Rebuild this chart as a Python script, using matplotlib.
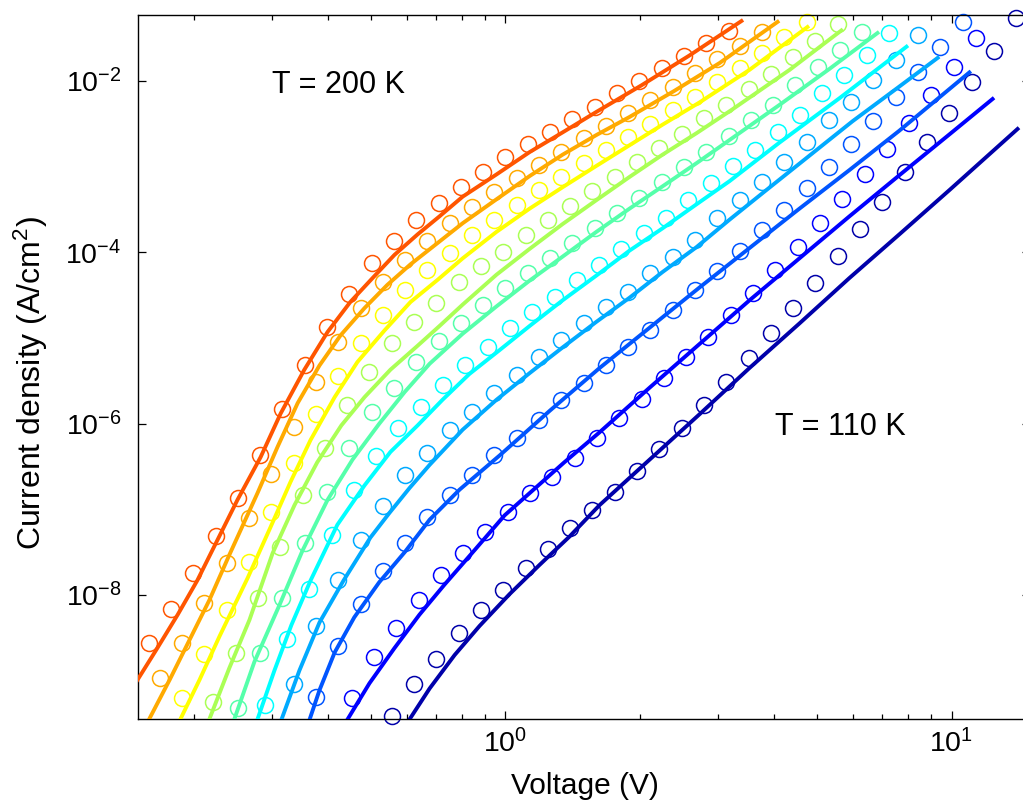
import numpy as np
import matplotlib.pyplot as plt
from matplotlib.ticker import LogLocator, NullLocator, NullFormatter, FixedLocator

plt.rcParams['font.family'] = ['Liberation Sans', 'DejaVu Sans']
plt.rcParams['mathtext.fontset'] = 'custom'
plt.rcParams['mathtext.rm'] = 'Liberation Sans'
plt.rcParams['mathtext.it'] = 'Liberation Sans:italic'
plt.rcParams['mathtext.bf'] = 'Liberation Sans:bold'
plt.rcParams['mathtext.default'] = 'regular'

# values, log10(V in volts) and log10(J in A/cm^2)
# circles = measured, lines = model fit
temps = [110, 120, 130, 140, 150, 160, 170, 180, 190, 200]
colors = ["#0000AA", "#0000FF", "#0055FF", "#00AAFF", "#00FFFF",
          "#55FFAA", "#AAFF55", "#FFFF00", "#FFAA00", "#FF5500"]

# 200 K
logv_meas_200 = [-0.80, -0.75, -0.70, -0.65, -0.60, -0.55, -0.50, -0.45, -0.40, -0.35, -0.30, -0.25, -0.20, -0.15,
                 -0.10, -0.05, 0.00, 0.05, 0.10, 0.15, 0.20, 0.25, 0.30, 0.35, 0.40, 0.45, 0.50]
logj_meas_200 = [-8.56, -8.16, -7.74, -7.31, -6.87, -6.37, -5.83, -5.32, -4.87, -4.49, -4.12, -3.87, -3.62, -3.42,
                 -3.24, -3.06, -2.89, -2.74, -2.60, -2.44, -2.30, -2.14, -2.00, -1.85, -1.71, -1.56, -1.42]
logv_fit_200 = [-0.825, -0.783, -0.735, -0.691, -0.646, -0.601, -0.549, -0.504, -0.451, -0.399, -0.348, -0.298,
                -0.249, -0.197, -0.148, -0.096, -0.020, 0.054, 0.128, 0.204, 0.305, 0.413, 0.529]
logj_fit_200 = [-8.99, -8.64, -8.23, -7.83, -7.36, -6.89, -6.39, -5.88, -5.37, -4.93, -4.58, -4.30,
                -4.03, -3.79, -3.58, -3.35, -3.09, -2.83, -2.60, -2.36, -2.05, -1.70, -1.30]

# 190 K
logv_meas_190 = [-0.775, -0.725, -0.675, -0.625, -0.575, -0.525, -0.475, -0.425, -0.375, -0.325, -0.275, -0.225,
                 -0.175, -0.125, -0.075, -0.025, 0.025, 0.075, 0.125, 0.175, 0.225, 0.275, 0.325, 0.375, 0.425,
                 0.475, 0.525, 0.575]
logj_meas_190 = [-8.97, -8.56, -8.09, -7.63, -7.10, -6.59, -6.04, -5.51, -5.05, -4.65, -4.35, -4.09, -3.87, -3.66,
                 -3.47, -3.30, -3.13, -2.98, -2.83, -2.67, -2.53, -2.37, -2.22, -2.07, -1.91, -1.74, -1.59, -1.43]
logv_fit_190 = [-0.798, -0.753, -0.709, -0.664, -0.619, -0.556, -0.511, -0.466, -0.417, -0.370, -0.316, -0.265,
                -0.213, -0.152, -0.096, -0.020, 0.054, 0.128, 0.204, 0.278, 0.377, 0.480, 0.610]
logj_fit_190 = [-9.44, -8.99, -8.53, -8.06, -7.53, -6.81, -6.27, -5.76, -5.32, -4.97, -4.65, -4.38,
                -4.14, -3.89, -3.66, -3.38, -3.11, -2.86, -2.63, -2.42, -2.12, -1.79, -1.31]

# 180 K
logv_meas_180 = [-0.725, -0.675, -0.625, -0.575, -0.525, -0.475, -0.425, -0.375, -0.325, -0.275, -0.225, -0.175,
                 -0.125, -0.075, -0.025, 0.025, 0.075, 0.125, 0.175, 0.225, 0.275, 0.325, 0.375, 0.425, 0.475,
                 0.525, 0.575, 0.625, 0.675]
logj_meas_180 = [-9.20, -8.69, -8.18, -7.62, -7.03, -6.46, -5.89, -5.44, -5.06, -4.73, -4.44, -4.21, -4.01, -3.80,
                 -3.62, -3.45, -3.27, -3.12, -2.96, -2.81, -2.65, -2.50, -2.34, -2.19, -2.01, -1.85, -1.67, -1.49,
                 -1.31]
logv_fit_180 = [-0.729, -0.686, -0.641, -0.578, -0.527, -0.482, -0.437, -0.383, -0.332, -0.271, -0.213, -0.152,
                -0.096, -0.020, 0.054, 0.128, 0.204, 0.278, 0.352, 0.435, 0.547, 0.677]
logj_fit_180 = [-9.45, -8.99, -8.48, -7.80, -7.21, -6.68, -6.19, -5.69, -5.28, -4.91, -4.58, -4.32,
                -4.07, -3.76, -3.49, -3.24, -2.99, -2.75, -2.51, -2.25, -1.87, -1.37]

# 170 K
logv_meas_170 = [-0.655, -0.605, -0.555, -0.505, -0.455, -0.405, -0.355, -0.305, -0.255, -0.205, -0.155, -0.105,
                 -0.055, -0.005, 0.045, 0.095, 0.145, 0.195, 0.245, 0.295, 0.345, 0.395, 0.445, 0.495, 0.545,
                 0.595, 0.645, 0.695, 0.745]
logj_meas_170 = [-9.25, -8.68, -8.04, -7.44, -6.83, -6.28, -5.78, -5.40, -5.06, -4.81, -4.59, -4.35, -4.16, -4.00,
                 -3.80, -3.62, -3.46, -3.28, -3.12, -2.95, -2.78, -2.62, -2.43, -2.28, -2.09, -1.92, -1.72, -1.53,
                 -1.34]
logv_fit_170 = [-0.664, -0.619, -0.574, -0.522, -0.473, -0.422, -0.368, -0.316, -0.258, -0.197, -0.148, -0.096,
                -0.020, 0.054, 0.128, 0.204, 0.278, 0.352, 0.428, 0.509, 0.637, 0.753]
logj_fit_170 = [-9.45, -8.85, -8.29, -7.51, -6.95, -6.45, -6.02, -5.69, -5.37, -5.09, -4.86, -4.61,
                -4.26, -3.96, -3.67, -3.39, -3.12, -2.86, -2.61, -2.33, -1.87, -1.41]

# 160 K
logv_meas_160 = [-0.60, -0.55, -0.50, -0.45, -0.40, -0.35, -0.30, -0.25, -0.20, -0.15, -0.10, -0.05, 0.00, 0.05,
                 0.10, 0.15, 0.20, 0.25, 0.30, 0.35, 0.40, 0.45, 0.50, 0.55, 0.60, 0.65, 0.70, 0.75, 0.80]
logj_meas_160 = [-9.32, -8.68, -8.04, -7.39, -6.80, -6.28, -5.86, -5.58, -5.28, -5.04, -4.83, -4.62, -4.42, -4.24,
                 -4.07, -3.89, -3.72, -3.54, -3.37, -3.18, -3.00, -2.83, -2.64, -2.46, -2.28, -2.05, -1.84, -1.64,
                 -1.43]
logv_fit_160 = [-0.608, -0.563, -0.507, -0.455, -0.399, -0.343, -0.283, -0.226, -0.170, -0.096, -0.020, 0.054,
                0.128, 0.204, 0.278, 0.352, 0.428, 0.502, 0.614, 0.726, 0.834]
logj_fit_160 = [-9.45, -8.78, -8.12, -7.48, -6.89, -6.42, -6.00, -5.63, -5.30, -4.95, -4.63, -4.33,
                -4.05, -3.76, -3.49, -3.23, -2.96, -2.69, -2.28, -1.86, -1.44]

# 150 K
logv_meas_150 = [-0.54, -0.49, -0.44, -0.39, -0.34, -0.29, -0.24, -0.19, -0.14, -0.09, -0.04, 0.01, 0.06, 0.11,
                 0.16, 0.21, 0.26, 0.31, 0.36, 0.41, 0.46, 0.51, 0.56, 0.61, 0.66, 0.71, 0.76, 0.81, 0.86]
logj_meas_150 = [-9.28, -8.51, -7.93, -7.30, -6.77, -6.38, -6.05, -5.81, -5.55, -5.32, -5.11, -4.88, -4.70, -4.52,
                 -4.32, -4.15, -3.96, -3.77, -3.60, -3.39, -3.19, -2.99, -2.81, -2.60, -2.40, -2.14, -1.93, -1.70,
                 -1.44]
logv_fit_150 = [-0.556, -0.518, -0.480, -0.437, -0.377, -0.316, -0.258, -0.197, -0.141, -0.081, -0.013, 0.054,
                0.128, 0.204, 0.278, 0.352, 0.428, 0.502, 0.614, 0.749, 0.899]
logj_fit_150 = [-9.45, -8.88, -8.35, -7.83, -7.18, -6.72, -6.33, -6.02, -5.72, -5.42, -5.14, -4.86,
                -4.56, -4.27, -3.98, -3.72, -3.44, -3.17, -2.72, -2.20, -1.60]

# 140 K
logv_meas_140 = [-0.475, -0.425, -0.375, -0.325, -0.275, -0.225, -0.175, -0.125, -0.075, -0.025, 0.025, 0.075,
                 0.125, 0.175, 0.225, 0.275, 0.325, 0.375, 0.425, 0.475, 0.525, 0.575, 0.625, 0.675, 0.725,
                 0.775, 0.825, 0.875, 0.925]
logj_meas_140 = [-9.04, -8.36, -7.83, -7.36, -6.96, -6.60, -6.34, -6.07, -5.86, -5.64, -5.43, -5.22, -5.02, -4.83,
                 -4.64, -4.46, -4.24, -4.05, -3.86, -3.60, -3.39, -3.18, -2.95, -2.71, -2.46, -2.25, -1.99, -1.76,
                 -1.46]
logv_fit_140 = [-0.502, -0.462, -0.417, -0.363, -0.303, -0.260, -0.215, -0.170, -0.096, -0.020, 0.054, 0.128,
                0.204, 0.278, 0.352, 0.428, 0.502, 0.576, 0.677, 0.778, 0.879, 0.969]
logj_fit_140 = [-9.45, -8.88, -8.32, -7.83, -7.33, -7.04, -6.75, -6.48, -6.07, -5.72, -5.41, -5.11,
                -4.81, -4.53, -4.23, -3.94, -3.62, -3.31, -2.89, -2.47, -2.08, -1.73]

# 130 K
logv_meas_130 = [-0.425, -0.375, -0.325, -0.275, -0.225, -0.175, -0.125, -0.075, -0.025, 0.025, 0.075, 0.125,
                 0.175, 0.225, 0.275, 0.325, 0.375, 0.425, 0.475, 0.525, 0.575, 0.625, 0.675, 0.725, 0.775,
                 0.825, 0.875, 0.925, 0.975, 1.025]
logj_meas_130 = [-9.19, -8.60, -8.11, -7.72, -7.39, -7.09, -6.83, -6.60, -6.37, -6.17, -5.96, -5.72, -5.53, -5.32,
                 -5.11, -4.91, -4.67, -4.44, -4.22, -3.98, -3.74, -3.51, -3.25, -3.00, -2.74, -2.47, -2.19, -1.90,
                 -1.60, -1.31]
logv_fit_130 = [-0.439, -0.417, -0.383, -0.339, -0.283, -0.226, -0.170, -0.103, -0.013, 0.099, 0.211, 0.323,
                0.435, 0.547, 0.659, 0.771, 0.883, 1.040]
logj_fit_130 = [-9.45, -9.11, -8.67, -8.26, -7.85, -7.50, -7.12, -6.77, -6.37, -5.85, -5.35, -4.88,
                -4.41, -3.95, -3.49, -3.04, -2.58, -1.90]

# 120 K
logv_meas_120 = [-0.345, -0.295, -0.245, -0.195, -0.145, -0.095, -0.045, 0.005, 0.055, 0.105, 0.155, 0.205,
                 0.255, 0.305, 0.355, 0.405, 0.455, 0.505, 0.555, 0.605, 0.655, 0.705, 0.755, 0.805, 0.855,
                 0.905, 0.955, 1.005, 1.055]
logj_meas_120 = [-9.20, -8.72, -8.39, -8.06, -7.77, -7.51, -7.26, -7.03, -6.81, -6.62, -6.40, -6.17, -5.93, -5.71,
                 -5.47, -5.22, -4.99, -4.73, -4.48, -4.21, -3.94, -3.66, -3.38, -3.09, -2.79, -2.49, -2.16, -1.84,
                 -1.50]
logv_fit_120 = [-0.354, -0.305, -0.249, -0.193, -0.137, -0.070, -0.002, 0.065, 0.132, 0.211, 0.323, 0.435,
                0.547, 0.659, 0.771, 0.883, 0.996, 1.092]
logj_fit_120 = [-9.45, -9.03, -8.62, -8.23, -7.88, -7.48, -7.07, -6.76, -6.45, -6.10, -5.58, -5.07,
                -4.56, -4.07, -3.58, -3.10, -2.62, -2.21]

# 110 K
logv_meas_110 = [-0.255, -0.205, -0.155, -0.105, -0.055, -0.005, 0.045, 0.095, 0.145, 0.195, 0.245, 0.295,
                 0.345, 0.395, 0.445, 0.495, 0.545, 0.595, 0.645, 0.695, 0.745, 0.795, 0.845, 0.895, 0.945,
                 0.995, 1.045, 1.095, 1.145]
logj_meas_110 = [-9.41, -9.04, -8.75, -8.44, -8.18, -7.94, -7.69, -7.46, -7.22, -7.01, -6.80, -6.55, -6.30, -6.05,
                 -5.78, -5.51, -5.23, -4.94, -4.65, -4.36, -4.04, -3.73, -3.41, -3.06, -2.71, -2.37, -2.01, -1.65,
                 -1.27]
logv_fit_110 = [-0.215, -0.170, -0.114, -0.058, 0.009, 0.076, 0.143, 0.211, 0.323, 0.435, 0.547, 0.659,
                0.771, 0.883, 0.996, 1.148]
logj_fit_110 = [-9.45, -9.09, -8.70, -8.36, -7.99, -7.65, -7.32, -6.95, -6.42, -5.89, -5.35, -4.83,
                -4.30, -3.79, -3.27, -2.56]

series = [
    (logv_meas_110, logj_meas_110, logv_fit_110, logj_fit_110),
    (logv_meas_120, logj_meas_120, logv_fit_120, logj_fit_120),
    (logv_meas_130, logj_meas_130, logv_fit_130, logj_fit_130),
    (logv_meas_140, logj_meas_140, logv_fit_140, logj_fit_140),
    (logv_meas_150, logj_meas_150, logv_fit_150, logj_fit_150),
    (logv_meas_160, logj_meas_160, logv_fit_160, logj_fit_160),
    (logv_meas_170, logj_meas_170, logv_fit_170, logj_fit_170),
    (logv_meas_180, logj_meas_180, logv_fit_180, logj_fit_180),
    (logv_meas_190, logj_meas_190, logv_fit_190, logj_fit_190),
    (logv_meas_200, logj_meas_200, logv_fit_200, logj_fit_200),
]

fig = plt.figure(figsize=(10.23, 8.07), dpi=100)
ax = fig.add_axes([0.1349, 0.109, 0.872, 0.873])

for (lv, lj, fv, fj), c in zip(series, colors):
    ax.plot(10 ** np.array(lv), 10 ** np.array(lj), 'o', ms=11.5, mfc='none', mec=c, mew=1.1,
            clip_on=False, zorder=2)
    ax.plot(10 ** np.array(fv), 10 ** np.array(fj), '-', color=c, lw=2.8, zorder=3,
            solid_joinstyle='round')

ax.set_xscale('log')
ax.set_yscale('log')
ax.set_xlim(0.15, 15)
ax.set_ylim(3.57e-10, 5.97e-2)

ax.yaxis.set_major_locator(FixedLocator([1e-8, 1e-6, 1e-4, 1e-2]))
ax.yaxis.set_minor_locator(NullLocator())
ax.xaxis.set_minor_locator(LogLocator(base=10, subs=np.arange(2, 10)))
ax.xaxis.set_minor_formatter(NullFormatter())

ax.tick_params(which='both', direction='in', top=True, right=True, width=0.9, labelsize=20.5)
ax.tick_params(which='major', length=6)
ax.tick_params(which='minor', length=3.5)
ax.tick_params(axis='x', pad=7)
ax.tick_params(axis='y', pad=12)
for s in ax.spines.values():
    s.set_linewidth(1.0)

ax.set_xlabel('Voltage (V)', fontsize=21.5)
ax.set_ylabel('Current density (A/cm$^2$)', fontsize=23)
ax.xaxis.set_label_coords(0.501, -0.075)
ax.yaxis.set_label_coords(-0.099, 0.477)

ax.text(0.30, 7.2e-3, 'T = 200 K', fontsize=22, ha='left', va='baseline')
ax.text(4.01, 7.4e-7, 'T = 110 K', fontsize=22, ha='left', va='baseline')

fig.savefig('out.png', dpi=100)
